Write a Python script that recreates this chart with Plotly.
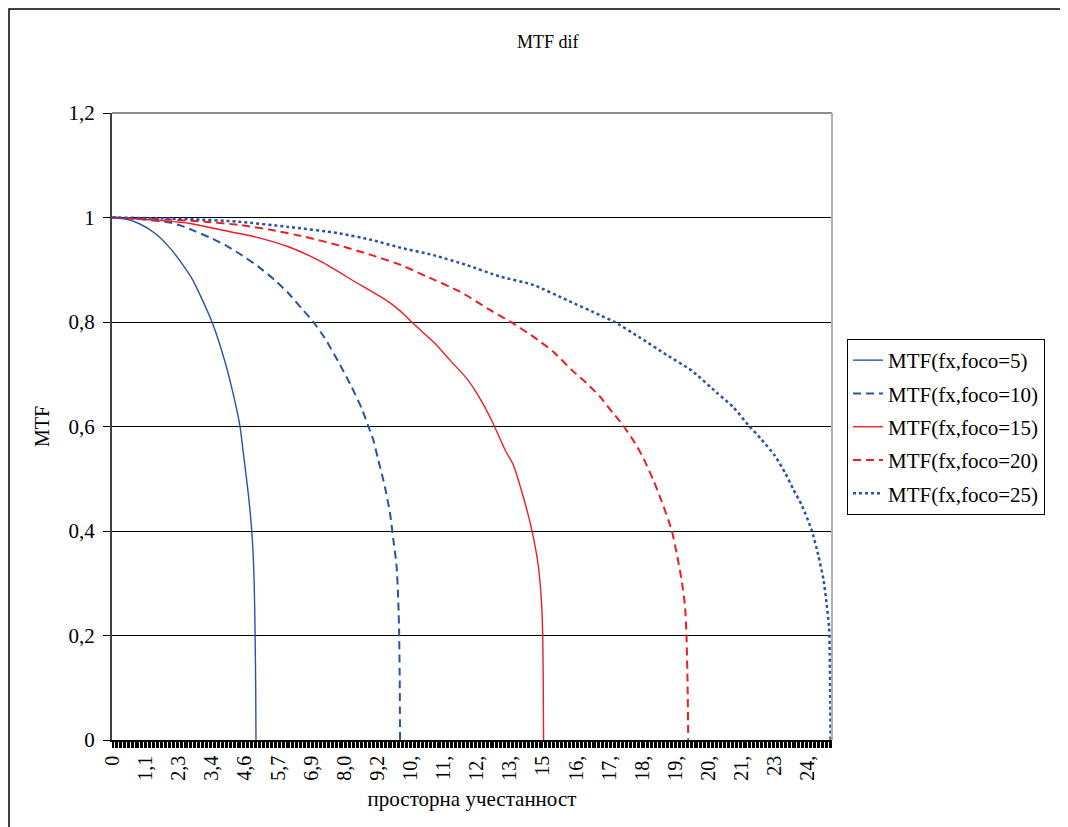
import plotly.graph_objects as go

# ---- data ----
foco5_x = [0, 0.45, 0.9, 1.48, 2.06, 2.76, 3.46, 3.92, 4.27, 4.44, 4.56, 4.73, 4.85, 4.91, 4.94, 4.97, 4.99, 5.0]
foco5_y = [1.0, 0.997, 0.989, 0.970, 0.938, 0.884, 0.801, 0.724, 0.647, 0.601, 0.549, 0.472, 0.402, 0.344, 0.293, 0.20, 0.10, 0.0]

foco10_x = [0, 0.9, 1.94, 2.41, 2.87, 3.46, 4.03, 4.50, 5.08, 5.66, 6.13, 6.59, 7.0, 7.40, 7.87, 8.33, 8.68,
            8.91, 9.09, 9.26, 9.49, 9.67, 9.78, 9.90, 9.96, 9.99, 10.01, 10.02]
foco10_y = [1.0, 0.997, 0.991, 0.984, 0.974, 0.960, 0.944, 0.928, 0.906, 0.880, 0.855, 0.826, 0.80, 0.769, 0.724,
            0.676, 0.635, 0.601, 0.574, 0.536, 0.485, 0.434, 0.386, 0.332, 0.262, 0.2, 0.10, 0.0]

foco15_x = [0, 1.48, 2.64, 3.80, 4.97, 6.13, 7.29, 8.45, 9.61, 10.19, 10.48, 11.18, 11.76, 12.34, 12.80, 13.21,
            13.68, 13.97, 14.31, 14.61, 14.84, 14.95, 14.99, 15.01, 15.02]
foco15_y = [1.0, 0.995, 0.989, 0.976, 0.963, 0.944, 0.915, 0.877, 0.839, 0.813, 0.797, 0.762, 0.727, 0.692, 0.654,
            0.612, 0.555, 0.526, 0.466, 0.402, 0.332, 0.262, 0.2, 0.10, 0.0]

foco20_x = [0, 1.5, 3.22, 4.38, 5.55, 6.71, 7.87, 9.03, 10.05, 10.95, 12.11, 13.15, 13.85, 14.66, 15.36, 16.06,
            16.52, 16.99, 17.45, 17.75, 18.21, 18.50, 18.84, 19.14, 19.48, 19.66, 19.83, 19.95, 20.0, 20.04, 20.06]
foco20_y = [1.0, 0.997, 0.992, 0.986, 0.976, 0.963, 0.947, 0.928, 0.909, 0.887, 0.858, 0.823, 0.801, 0.772, 0.743,
            0.705, 0.683, 0.657, 0.625, 0.605, 0.568, 0.539, 0.498, 0.456, 0.402, 0.357, 0.306, 0.255, 0.2, 0.10, 0.0]

foco25_x = [0, 2.64, 4.38, 6.13, 7.87, 9.03, 10.05, 11.18, 12.34, 13.50, 14.66, 15.83, 16.99, 17.5, 18.38, 19.31,
            20.18, 21.05, 21.63, 22.15, 22.62, 23.08, 23.43, 23.72, 24.01, 24.36, 24.59, 24.77, 24.88, 24.97,
            24.99, 25.01, 25.02]
foco25_y = [1.0, 0.997, 0.992, 0.982, 0.970, 0.957, 0.942, 0.928, 0.909, 0.887, 0.871, 0.842, 0.813, 0.80, 0.770,
            0.737, 0.707, 0.665, 0.637, 0.603, 0.575, 0.544, 0.512, 0.480, 0.450, 0.402, 0.354, 0.308, 0.262,
            0.214, 0.166, 0.07, 0.0]

series_names = ["MTF(fx,foco=5)", "MTF(fx,foco=10)", "MTF(fx,foco=15)", "MTF(fx,foco=20)", "MTF(fx,foco=25)"]

x_tick_labels = ["0", "1,1", "2,3", "3,4", "4,6", "5,7", "6,9", "8,0", "9,2", "10,", "11,", "12,", "13,",
                 "15", "16,", "17,", "18,", "19,", "20,", "21,", "23", "24,"]
x_label_step = 15 / 13
y_tick_vals = [0, 0.2, 0.4, 0.6, 0.8, 1.0, 1.2]
y_tick_text = ["0", "0,2", "0,4", "0,6", "0,8", "1", "1,2"]

# ---- styling ----
BLUE = "#2A52A6"
RED = "#EE1C25"
FONT = "Liberation Serif, Times New Roman, serif"

styles = [
    dict(color=BLUE, width=1.4, dash="solid"),
    dict(color=BLUE, width=2.0, dash="8px,5px"),
    dict(color=RED, width=1.4, dash="solid"),
    dict(color=RED, width=2.0, dash="8px,5px"),
    dict(color=BLUE, width=2.5, dash="3px,3px"),
]
data_x = [foco5_x, foco10_x, foco15_x, foco20_x, foco25_x]
data_y = [foco5_y, foco10_y, foco15_y, foco20_y, foco25_y]

fig = go.Figure()
for name, xs, ys, st in zip(series_names, data_x, data_y, styles):
    fig.add_trace(go.Scatter(x=xs, y=ys, mode="lines", name=name, line=dict(shape="spline", smoothing=0.6, **st),
                             legendgroup=name))

W, H = 1060, 819
L, R, T, B = 104, 236, 105, 87
PX0, PY0 = 112, 113
PW, PH = 720, 627

def px_x(p):
    return (p - PX0) / PW

def px_y(p):
    return (PY0 + PH - p) / PH

fig.update_layout(
    width=W, height=H, autosize=False,
    margin=dict(l=L, r=R, t=T, b=B),
    paper_bgcolor="white", plot_bgcolor="white",
    font=dict(family=FONT, size=20, color="black"),
    showlegend=True,
    legend=dict(x=px_x(847), y=px_y(339), xanchor="left", yanchor="top",
                bordercolor="black", borderwidth=1, bgcolor="white",
                font=dict(family=FONT, size=21), tracegroupgap=3),
    xaxis=dict(range=[-0.017, 25.07], tickmode="array",
               tickvals=[i * x_label_step for i in range(len(x_tick_labels))],
               ticktext=x_tick_labels, tickangle=-90,
               tickfont=dict(family=FONT, size=20),
               ticks="outside", ticklen=6, tickcolor="black", tickwidth=1,
               minor=dict(tickmode="linear", tick0=0, dtick=x_label_step / 25,
                          ticks="outside", ticklen=6, tickcolor="black", tickwidth=1),
               showline=True, linecolor="black", linewidth=1.5,
               showgrid=False, zeroline=False,
               title=dict(text="просторна учестанност", font=dict(family=FONT, size=21), standoff=12)),
    yaxis=dict(range=[0, 1.2], tickmode="array", tickvals=y_tick_vals, ticktext=y_tick_text,
               tickfont=dict(family=FONT, size=21), ticklabelstandoff=4,
               ticks="outside", ticklen=7, tickcolor="black",
               showline=True, linecolor="#404040", linewidth=2,
               showgrid=True, gridcolor="black", gridwidth=1, zeroline=False,
               title=dict(text="MTF", font=dict(family=FONT, size=20), standoff=14)),
    annotations=[dict(text="MTF dif", xref="paper", yref="paper", x=px_x(548), y=px_y(42),
                      xanchor="center", yanchor="middle", showarrow=False,
                      font=dict(family=FONT, size=18))],
    shapes=[
        dict(type="line", xref="paper", yref="paper", x0=0, x1=1, y0=1, y1=1,
             line=dict(color="#8C8C8C", width=2), layer="above"),
        dict(type="line", xref="paper", yref="paper", x0=1, x1=1, y0=0, y1=1,
             line=dict(color="#B0B0B0", width=2), layer="above"),
        dict(type="rect", xref="paper", yref="paper",
             x0=px_x(9), x1=px_x(1063), y0=px_y(9), y1=px_y(840),
             line=dict(color="black", width=1.5), fillcolor="rgba(0,0,0,0)", layer="below"),
    ],
)

fig.write_html("out.html")
